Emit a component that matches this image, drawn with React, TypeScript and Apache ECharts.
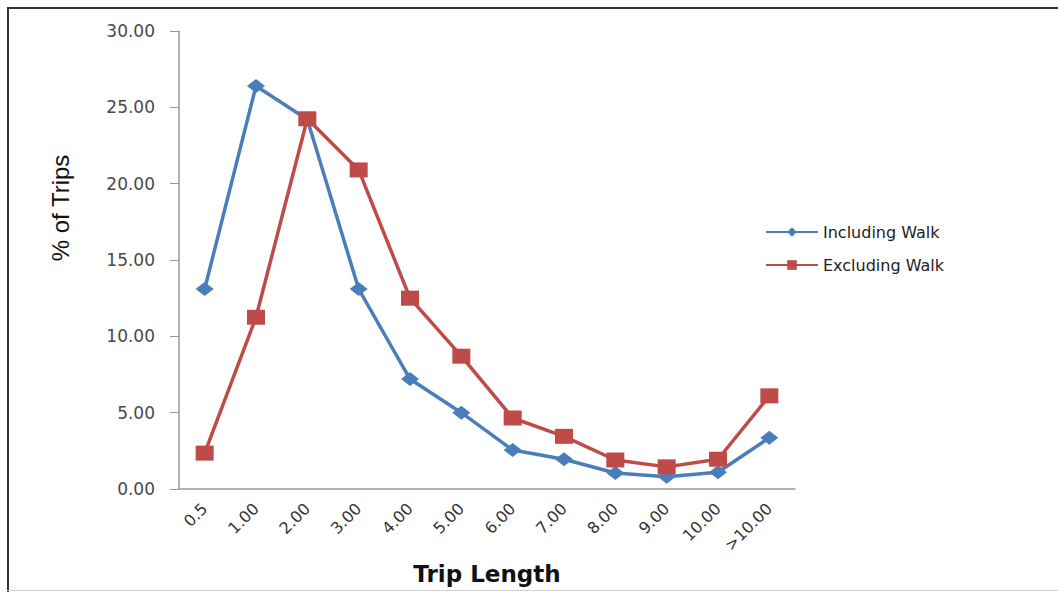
import React, { useEffect, useRef } from "react";
import * as echarts from "echarts";

// Trip length bins (miles) and share of trips in each bin
const categories = ["0.5", "1.00", "2.00", "3.00", "4.00", "5.00", "6.00", "7.00", "8.00", "9.00", "10.00", ">10.00"];
const includingWalk = [13.1, 26.4, 24.2, 13.1, 7.2, 5.0, 2.55, 1.95, 1.05, 0.8, 1.1, 3.35];
const excludingWalk = [2.35, 11.25, 24.25, 20.9, 12.5, 8.7, 4.65, 3.45, 1.9, 1.45, 1.95, 6.1];
const yTicks = { min: 0, max: 30, interval: 5 };

const BLUE = "#4a7ebb";
const RED = "#be4b48";

export default function App() {
  const ref = useRef<HTMLDivElement>(null);

  useEffect(() => {
    if (!ref.current) return;
    const chart = echarts.init(ref.current, null, { renderer: "svg" });
    chart.setOption({
      animation: false,
      backgroundColor: "#ffffff",
      grid: { left: 179, right: 263, top: 31, bottom: 103, containLabel: false },
      graphic: [
        { type: "line", shape: { x1: 7, y1: 8, x2: 1058, y2: 8 }, style: { stroke: "#333", lineWidth: 2 } },
        { type: "line", shape: { x1: 8, y1: 7, x2: 8, y2: 592 }, style: { stroke: "#333", lineWidth: 2 } },
        { type: "line", shape: { x1: 7, y1: 590.5, x2: 1058, y2: 590.5 }, style: { stroke: "#d0d0d0", lineWidth: 1 } },
        {
          type: "text",
          x: 487,
          y: 574,
          style: {
            text: "Trip Length",
            font: "bold 23px 'DejaVu Sans', sans-serif",
            fill: "#111",
            align: "center",
            verticalAlign: "middle",
          },
        },
        {
          type: "text",
          x: 60,
          y: 208,
          rotation: Math.PI / 2,
          style: {
            text: "% of Trips",
            font: "24px 'Liberation Sans', Arial, sans-serif",
            fill: "#111",
            align: "center",
            verticalAlign: "middle",
          },
        },
      ],
      legend: {
        orient: "vertical",
        left: 760,
        top: 219,
        itemWidth: 52,
        itemHeight: 12,
        itemGap: 17,
        textStyle: { fontFamily: "DejaVu Sans", fontSize: 16, color: "#222" },
        data: ["Including Walk", "Excluding Walk"],
      },
      xAxis: {
        type: "category",
        data: categories,
        boundaryGap: true,
        axisLine: { lineStyle: { color: "#9a9a9a", width: 1.5 } },
        axisTick: { show: false },
        axisLabel: {
          rotate: 45,
          margin: 17,
          interval: 0,
          fontFamily: "DejaVu Sans",
          fontSize: 16,
          color: "#333",
        },
        splitLine: { show: false },
      },
      yAxis: {
        type: "value",
        min: yTicks.min,
        max: yTicks.max,
        interval: yTicks.interval,
        axisLine: { show: true, lineStyle: { color: "#9a9a9a", width: 1.5 } },
        axisTick: { show: true, inside: false, length: 9, lineStyle: { color: "#9a9a9a" } },
        axisLabel: {
          margin: 24,
          fontFamily: "DejaVu Sans",
          fontSize: 17,
          color: "#4a4a4a",
          formatter: (v: number) => v.toFixed(2),
        },
        splitLine: { show: false },
      },
      series: [
        {
          name: "Including Walk",
          type: "line",
          data: includingWalk,
          color: BLUE,
          symbol: "diamond",
          symbolSize: [18, 14],
          lineStyle: { width: 3.5, color: BLUE },
          itemStyle: { color: BLUE },
          z: 2,
        },
        {
          name: "Excluding Walk",
          type: "line",
          data: excludingWalk,
          color: RED,
          symbol: "rect",
          symbolSize: [18, 15],
          lineStyle: { width: 3.5, color: RED },
          itemStyle: { color: RED },
          z: 3,
        },
      ],
    });
    return () => chart.dispose();
  }, []);

  return (
    <div
      ref={ref}
      style={{ position: "fixed", left: 0, top: 0, width: 1058, height: 592, background: "#fff" }}
    />
  );
}
